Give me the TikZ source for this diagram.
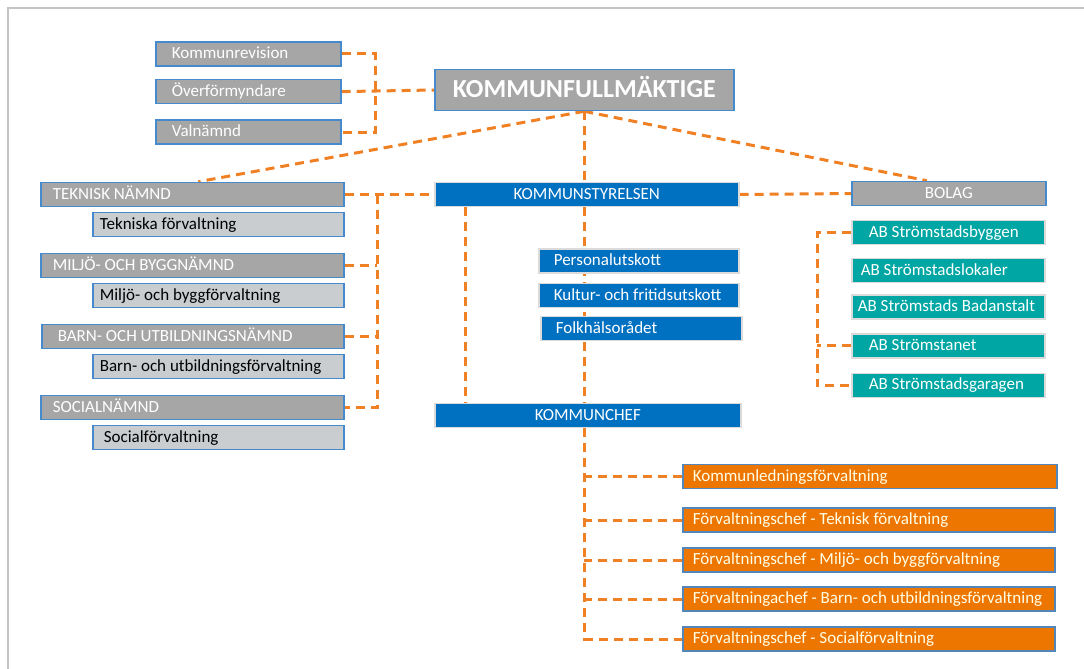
\documentclass[tikz,border=0pt]{standalone}
\usepackage{fontspec}
\setmainfont{Carlito}
\usetikzlibrary{positioning,backgrounds}

\definecolor{boxgray}{RGB}{166,166,166}
\definecolor{subgray}{RGB}{201,205,208}
\definecolor{edgeblue}{RGB}{68,138,204}
\definecolor{ksblue}{RGB}{0,112,192}
\definecolor{abteal}{RGB}{0,166,164}
\definecolor{forange}{RGB}{237,118,0}
\definecolor{linkorange}{RGB}{240,128,36}
\definecolor{framegray}{RGB}{196,196,196}

\tikzset{
  every node/.style={font=\fontsize{17}{20}\selectfont, minimum height=24pt,
    text height=13pt, text depth=4pt, inner ysep=3.5pt, anchor=west, line width=1.6pt},
  lft/.style={execute at begin node={\hbox to #1\bgroup}, execute at end node={\hss\egroup}},
  graybox/.style={fill=boxgray, draw=edgeblue, text=white},
  subbox/.style={fill=subgray, draw=edgeblue, text=black},
  bluebox/.style={fill=ksblue, draw=white!72!gray, text=white},
  tealbox/.style={fill=abteal, draw=white!72!gray, text=white},
  orangebox/.style={fill=forange, draw=edgeblue!75!gray, text=white!90!yellow, inner xsep=10pt},
  link/.style={draw=linkorange, line width=3pt, dash pattern=on 9pt off 6pt}
}

\begin{document}
\begin{tikzpicture}[x=1pt, y=-1pt]
  \useasboundingbox (0,0) rectangle (1084,669);
  \draw[framegray, line width=2pt] (8,669) -- (8,8) -- (1084,8);

  % fullmaktige och valda organ
  \node[graybox, font=\bfseries\fontsize{26}{30}\selectfont, minimum width=299pt, minimum height=41pt,
        text height=19pt, text depth=4pt] (kf) at (434,90) {KOMMUNFULLMÄKTIGE};
  \node[graybox, inner xsep=16pt, lft=153pt] (rev) at (155,54) {Kommunrevision};
  \node[graybox, inner xsep=16pt, lft=153pt] (ovf) [below=12pt of rev] {Överförmyndare};
  \node[graybox, inner xsep=16pt, lft=153pt] (val) [below=15pt of ovf] {Valnämnd};

  % namnder
  \node[graybox, inner xsep=12pt, lft=279pt] (tek) at (40,194.5) {TEKNISK NÄMND};
  \node[subbox, inner xsep=7pt, lft=237pt] (tekf) [below=4.5pt of tek.south east, anchor=north east] {Tekniska förvaltning};
  \node[graybox, inner xsep=12pt, lft=279pt] (mil) at (40,265.5) {MILJÖ- OCH BYGGNÄMND};
  \node[subbox, inner xsep=7pt, lft=237pt] (milf) [below=4.5pt of mil.south east, anchor=north east] {Miljö- och byggförvaltning};
  \node[graybox, inner xsep=16pt, lft=270pt] (barn) at (41,336.5) {BARN- OCH UTBILDNINGSNÄMND};
  \node[subbox, inner xsep=7pt, lft=237pt] (barnf) [below=4.5pt of barn.south east, anchor=north east] {Barn- och utbildningsförvaltning};
  \node[graybox, inner xsep=12pt, lft=279pt] (soc) at (40,407.5) {SOCIALNÄMND};
  \node[subbox, inner xsep=11pt, lft=229pt] (socf) [below=4.5pt of soc.south east, anchor=north east] {Socialförvaltning};

  % kommunstyrelsen
  \node[bluebox, minimum width=304pt] (ks) at (434,194.5) {KOMMUNSTYRELSEN};
  \node[bluebox, inner xsep=15pt, lft=170pt] (pers) at (538,261) {Personalutskott};
  \node[bluebox, inner xsep=15pt, lft=170pt] (kult) at (538,295.5) {Kultur- och fritidsutskott};
  \node[bluebox, inner xsep=15pt, lft=171pt] (folk) at (540,328.5) {Folkhälsorådet};
  \node[bluebox, minimum width=306pt] (kc) at (434,415.5) {KOMMUNCHEF};

  % bolag
  \node[graybox, minimum width=194pt] (bolag) at (851,193.5) {BOLAG};
  \node[tealbox, inner xsep=17pt, lft=159pt] (byggen) at (851,232.5) {AB Strömstadsbyggen};
  \node[tealbox, inner xsep=9pt, lft=175pt] (lokaler) [below=12.5pt of byggen] {AB Strömstadslokaler};
  \node[tealbox, inner xsep=6pt, lft=181pt] (badan) [below=11pt of lokaler] {AB Strömstads Badanstalt};
  \node[tealbox, inner xsep=17pt, lft=159pt] (stanet) [below=13pt of badan] {AB Strömstanet};
  \node[tealbox, inner xsep=17pt, lft=159pt] (garagen) [below=14pt of stanet] {AB Strömstadsgaragen};

  % forvaltningar
  \node[orangebox, lft=354pt] (kled) at (682,476.5) {Kommunledningsförvaltning};
  \node[orangebox, lft=352pt] (ftek) at (682,520) {Förvaltningschef - Teknisk förvaltning};
  \node[orangebox, lft=352pt] (fmil) at (682,560) {Förvaltningschef - Miljö- och byggförvaltning};
  \node[orangebox, lft=352pt] (fbarn) at (682,599) {Förvaltningachef - Barn- och utbildningsförvaltning};
  \node[orangebox, lft=352pt] (fsoc) at (682,639) {Förvaltningschef - Socialförvaltning};

  \begin{scope}[on background layer]
    \coordinate (tlj) at (375,90);
    \coordinate (lvj) at (377,194.5);
    \coordinate (rj) at (817,232.5);
    \draw[link] (rev.east) -| (tlj) |- (val.east);
    \draw[link] (ovf.east) -- (kf.west);
    \draw[link] (kf.south) -- ([xshift=6pt]tek.north);
    \draw[link] (kf.south) -- ([xshift=-22pt]bolag.north);
    \draw[link] (kf.south) -- (kf.south |- ks.north);
    \draw[link] (tek.east) -- (ks.west);
    \draw[link] (lvj) |- (soc.east);
    \draw[link] (mil.east) -- (mil.east -| lvj);
    \draw[link] (barn.east) -- (barn.east -| lvj);
    \draw[link] (ks.east) -- (bolag.west);
    \draw[link] ([xshift=31pt]ks.south west) -- ([xshift=31pt]kc.north west);
    \draw[link] (kf.south |- ks.south) -- (kf.south |- kc.north);
    \draw[link] (kf.south |- kc.south) |- (fsoc.west);
    \foreach \f in {kled,ftek,fmil,fbarn}
      \draw[link] (\f.west) -- (\f.west -| kf.south);
    \draw[link] (byggen.west) -- (rj) |- (garagen.west);
    \draw[link] (stanet.west) -- (stanet.west -| rj);
  \end{scope}
\end{tikzpicture}
\end{document}
